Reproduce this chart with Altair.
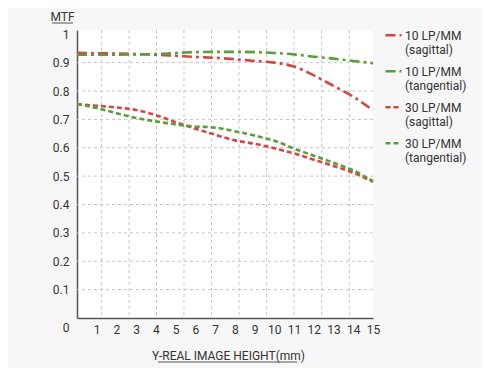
import altair as alt
import pandas as pd

# ---- data ----
x_vals = list(range(16))
sag10 = [0.935, 0.933, 0.932, 0.930, 0.928, 0.924, 0.920, 0.917, 0.912, 0.906, 0.900, 0.886, 0.855, 0.818, 0.780, 0.732]
tan10 = [0.928, 0.928, 0.928, 0.929, 0.930, 0.934, 0.937, 0.938, 0.938, 0.937, 0.934, 0.929, 0.921, 0.914, 0.906, 0.898]
sag30 = [0.754, 0.748, 0.742, 0.733, 0.715, 0.690, 0.667, 0.646, 0.626, 0.614, 0.598, 0.580, 0.558, 0.536, 0.512, 0.480]
tan30 = [0.754, 0.740, 0.722, 0.705, 0.693, 0.682, 0.675, 0.671, 0.658, 0.643, 0.625, 0.597, 0.572, 0.547, 0.520, 0.482]

series_names = ["10 LP/MM|(sagittal)", "10 LP/MM|(tangential)", "30 LP/MM|(sagittal)", "30 LP/MM|(tangential)"]
series_colors = ["#d64541", "#5a9e3c", "#d64541", "#5a9e3c"]
series_dashes = [[10, 4, 3, 4], [10, 4, 3, 4], [5, 3], [5, 3]]

x_ticks = list(range(1, 16))
y_ticks = [0, 0.1, 0.2, 0.3, 0.4, 0.5, 0.6, 0.7, 0.8, 0.9, 1]
grid_x = [1.25, 2.64, 4.03, 5.42, 6.82, 8.21, 9.61, 11.0, 12.4, 13.8]
grid_y = [0.1, 0.2, 0.3, 0.4, 0.5, 0.6, 0.7, 0.8, 0.9]

rows = []
for name, vals in zip(series_names, [sag10, tan10, sag30, tan30]):
    for xv, v in zip(x_vals, vals):
        rows.append({"x": xv, "mtf": v, "series": name})
df = pd.DataFrame(rows)

FONT = "Roboto"
TXT = "#333333"

x_scale = alt.Scale(domain=[0, 15], nice=False, zero=False)
y_scale = alt.Scale(domain=[0, 1.015], nice=False, zero=True)

x_axis = alt.Axis(
    values=x_ticks,
    title="Y-REAL IMAGE HEIGHT(mm)",
    grid=False,
    ticks=False,
    labelOverlap=False,
    labelFlush=False,
    domainColor="#555555",
    domainWidth=1.5,
    labelPadding=6,
    labelFont=FONT,
    labelFontSize=12,
    labelColor=TXT,
    titleFont=FONT,
    titleFontSize=12,
    titleFontWeight="normal",
    titleColor=TXT,
    titleX=151,
    titleY=37,
    titleAlign="center",
    titleBaseline="middle",
)

y_axis = alt.Axis(
    values=y_ticks,
    format=".1~f",
    title="MTF",
    grid=False,
    ticks=False,
    labelOverlap=False,
    labelFlush=False,
    domainColor="#555555",
    domainWidth=1.5,
    labelPadding=8,
    labelFont=FONT,
    labelFontSize=12,
    labelColor=TXT,
    labelOffset={"condition": {"test": "datum.value == 0", "value": 9}, "value": 0},
    titleFont=FONT,
    titleFontSize=12,
    titleFontWeight="normal",
    titleColor=TXT,
    titleAngle=0,
    titleX=-15,
    titleY=-14,
    titleAlign="center",
    titleBaseline="middle",
)

vgrid = alt.Chart(pd.DataFrame({"x": grid_x})).mark_rule(
    color="#c4c4c4", strokeDash=[3, 3], strokeWidth=1
).encode(x=alt.X("x:Q", scale=x_scale, axis=x_axis))

hgrid = alt.Chart(pd.DataFrame({"mtf": grid_y})).mark_rule(
    color="#c4c4c4", strokeDash=[3, 3], strokeWidth=1
).encode(y=alt.Y("mtf:Q", scale=y_scale, axis=y_axis))

legend = alt.Legend(
    title=None,
    orient="none",
    legendX=307,
    legendY=-9,
    labelExpr="split(datum.label, '|')",
    labelBaseline="top",
    symbolType="M-1,0.6L1,0.6",
    symbolSize=256,
    symbolStrokeWidth=2.5,
    labelFont=FONT,
    labelFontSize=12,
    labelColor=TXT,
    rowPadding=1,
    labelOffset=2,
)

lines = alt.Chart(df).mark_line(strokeWidth=2.6, interpolate="monotone").encode(
    x=alt.X("x:Q", scale=x_scale, axis=x_axis),
    y=alt.Y("mtf:Q", scale=y_scale, axis=y_axis),
    color=alt.Color("series:N", scale=alt.Scale(domain=series_names, range=series_colors), legend=legend),
    strokeDash=alt.StrokeDash("series:N", scale=alt.Scale(domain=series_names, range=series_dashes), legend=legend),
)

one = pd.DataFrame({"a": [0]})
ul_mtf = alt.Chart(one).mark_rule(color="#555555", strokeWidth=1).encode(
    x=alt.value(-25), x2=alt.value(-4), y=alt.value(-7)
)
ul_xt = alt.Chart(one).mark_rule(color="#555555", strokeWidth=1).encode(
    x=alt.value(81), x2=alt.value(220), y=alt.value(332)
)

chart = alt.layer(vgrid, hgrid, lines, ul_mtf, ul_xt).properties(
    width=296,
    height=288,
    autosize=alt.AutoSizeParams(type="none"),
    padding={"left": 69, "top": 22, "right": 109, "bottom": 50},
    background="#f7f7f7",
).configure_view(fill="white", strokeWidth=0)

chart.save("out.html", embed_options={"renderer": "svg", "actions": False})
